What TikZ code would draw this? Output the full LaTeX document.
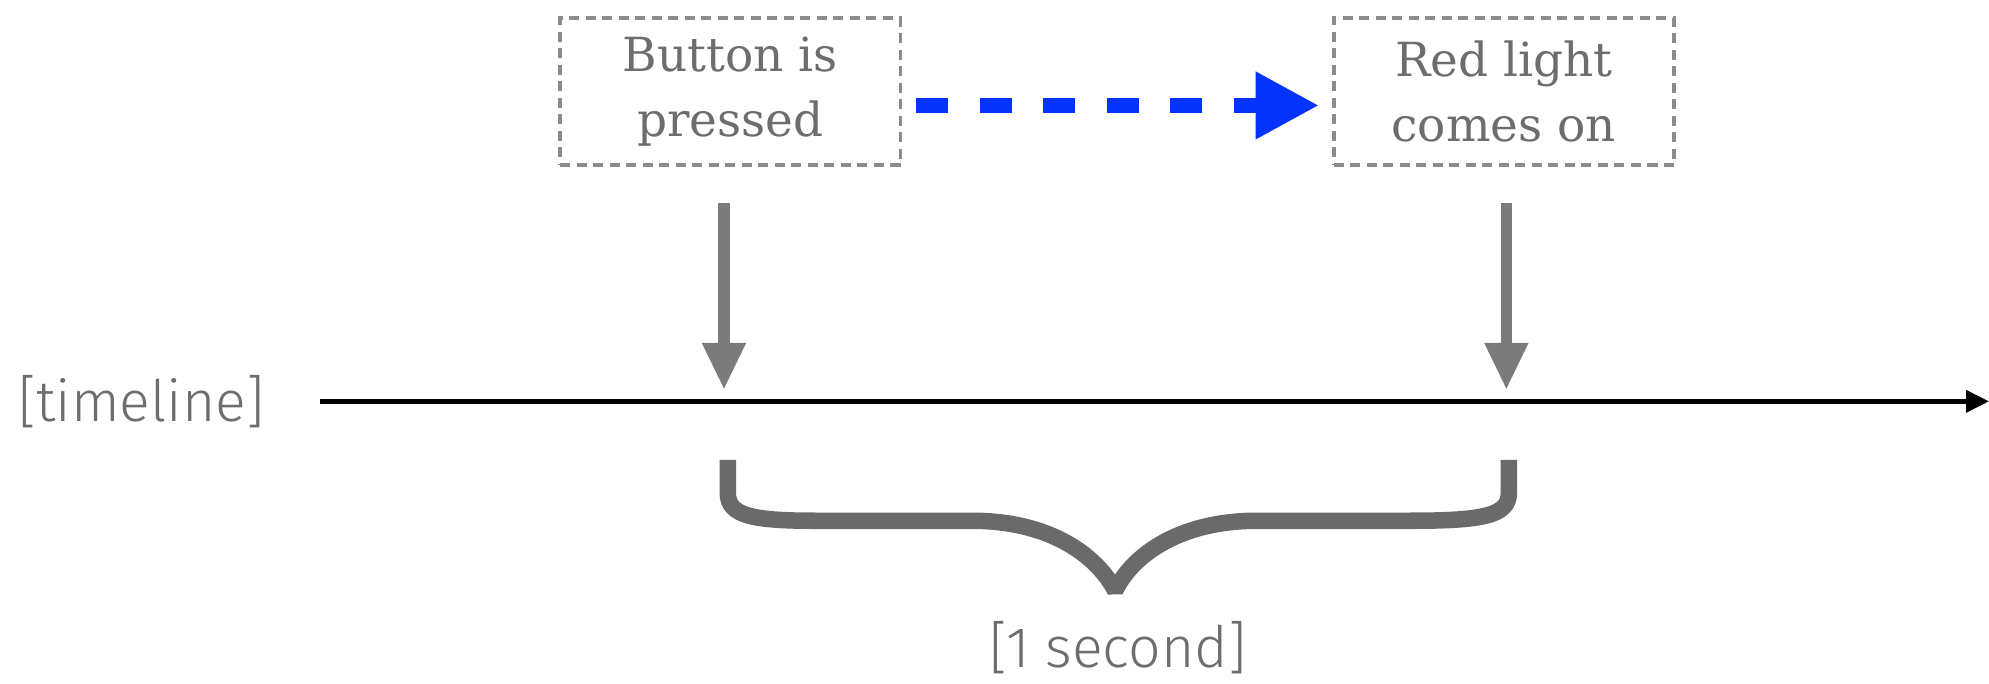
\documentclass[tikz,border=0pt]{standalone}
\usepackage{fontspec}
\usetikzlibrary{arrows.meta}
\newfontfamily\boxfont{DejaVu Serif}
\newfontfamily\lightsans{Fira Sans Light}
\definecolor{textgray}{HTML}{6D6D6D}
\definecolor{boxgray}{HTML}{8A8B8E}
\definecolor{arrowgray}{HTML}{7B7B7B}
\definecolor{bracegray}{HTML}{6A6A6A}
\definecolor{appleblue}{HTML}{0433FF}
\tikzset{
  x=1pt, y=-1pt,
  eventbox/.style={draw=boxgray, line width=3pt, dash pattern=on 8pt off 5pt,
    minimum width=268pt, minimum height=116pt, inner sep=0pt, align=center,
    text=textgray, font=\boxfont\fontsize{37}{51}\selectfont},
  label/.style={text=textgray, inner sep=0pt, font=\lightsans\fontsize{45}{52}\selectfont},
  grayarrow/.style={draw=arrowgray, line width=9pt, -{Triangle[length=37pt,width=32pt]}},
  bluearrow/.style={draw=appleblue, line width=12pt, dash pattern=on 25pt off 25pt,
    -{Triangle[length=50pt,width=50pt]}},
  timeaxis/.style={draw=black, line width=3.5pt, -{Triangle[length=18pt,width=17pt]}},
  bracestroke/.style={draw=bracegray, line width=13pt, line join=bevel, line cap=butt}
}
\begin{document}
\begin{tikzpicture}
\useasboundingbox (0,0) rectangle (1566,538.5);
\node[eventbox] (b1) at (575,72) {Button is\\pressed};
\node[eventbox] (b2) at (1184,72) {Red light\\comes on};
\node[label, anchor=west] (tl) at (14,316) {[timeline]};
\node[label] (sec) at (880,510) {[1 second]};
\coordinate (t0) at (252,316);
\coordinate (t1) at (1566,316);
\coordinate (s1) at (570,160);
\coordinate (p1) at (570,307);
\coordinate (s2) at (1186,160);
\coordinate (p2) at (1186,307);
\draw[timeaxis] (t0) -- (t1);
\draw[bluearrow] ([xshift=11pt,yshift=-11pt]b1.east) -- ([xshift=-10pt,yshift=-11pt]b2.west);
\draw[grayarrow] (s1) -- (p1);
\draw[grayarrow] (s2) -- (p2);
\draw[bracestroke] (573,362) -- (573,388) .. controls (573,406) and (592,410) .. (642,410)
  -- (765,410) .. controls (830,410) and (865,440) .. (878,465)
  .. controls (890,440) and (925,410) .. (990,410)
  -- (1110,410) .. controls (1168,410) and (1188,406) .. (1188,388) -- (1188,362);
\end{tikzpicture}
\end{document}
